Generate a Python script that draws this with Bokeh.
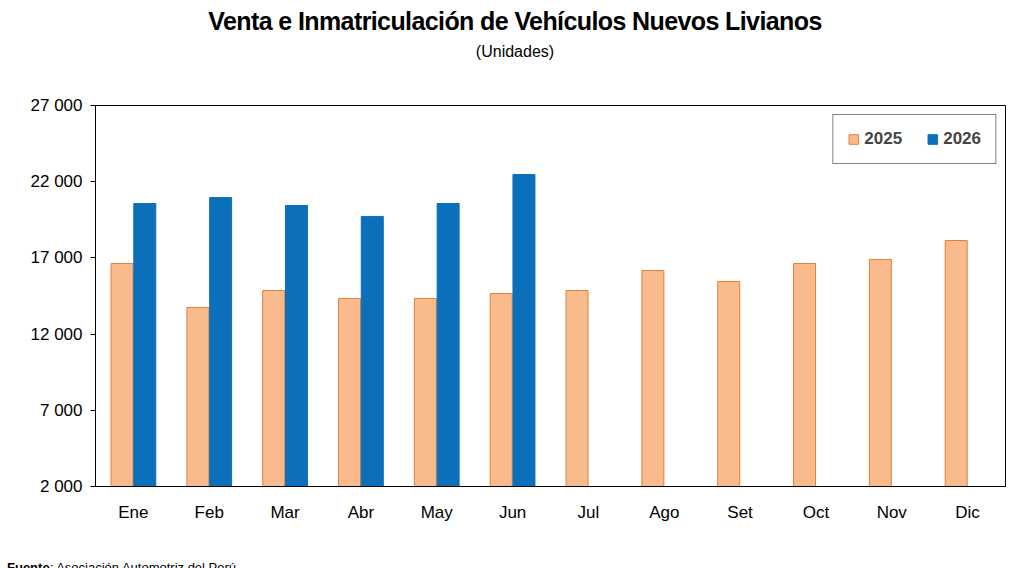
from bokeh.plotting import figure
from bokeh.models import FactorRange, Range1d, Legend, LegendItem, ColumnDataSource, FixedTicker, Div
from bokeh.layouts import column
from bokeh.transform import dodge
from bokeh.embed import file_html
from bokeh.resources import INLINE

months = ["Ene","Feb","Mar","Abr","May","Jun","Jul","Ago","Set","Oct","Nov","Dic"]
v2025 = [16630,13750,14860,14340,14340,14660,14860,16170,15450,16630,16900,18140]
months26 = ["Ene","Feb","Mar","Abr","May","Jun"]
v2026 = [20570,20960,20440,19720,20570,22470]
yticks = [2000,7000,12000,17000,22000,27000]

FONT = "Liberation Sans"
p = figure(x_range=FactorRange(*months), y_range=Range1d(2000,27000), width=1008, height=458,
           output_backend="svg", toolbar_location=None,
           min_border_left=95, min_border_right=3, min_border_top=33, min_border_bottom=44)
p.outline_line_color="black"; p.outline_line_width=1
p.xgrid.grid_line_color=None; p.ygrid.grid_line_color=None

s1 = ColumnDataSource(dict(x=months, y=v2025))
s2 = ColumnDataSource(dict(x=months26, y=v2026))
r1 = p.vbar(x=dodge("x",-0.15,range=p.x_range), top="y", bottom=2000, width=0.29, source=s1,
            fill_color="#F9BB8B", line_color="#E0803A", line_width=1)
r2 = p.vbar(x=dodge("x",0.15,range=p.x_range), top="y", bottom=2000, width=0.29, source=s2,
            fill_color="#0B70B9", line_color="#0B70B9", line_width=1)

p.yaxis.ticker = FixedTicker(ticks=yticks)
p.yaxis.major_label_overrides = {t: f"{t:,}".replace(",", " ") for t in yticks}
for ax in (p.xaxis[0], p.yaxis[0]):
    ax.major_label_text_font = FONT
    ax.major_label_text_font_size = "17px"
    ax.major_label_text_color = "black"
    ax.axis_line_color = "black"
    ax.major_tick_line_color = "black"
    ax.minor_tick_line_color = None
p.xaxis.major_tick_line_color = None
p.xaxis.major_label_standoff = 10
p.yaxis.major_tick_out = 5; p.yaxis.major_tick_in = 0
p.yaxis.major_label_standoff = 8

leg = Legend(items=[LegendItem(label="2025", renderers=[r1]), LegendItem(label="2026", renderers=[r2])],
             orientation="horizontal", location="top_right",
             border_line_color="black", border_line_width=1,
             label_text_font=FONT, label_text_font_style="bold", label_text_font_size="17px",
             glyph_width=12, glyph_height=12, spacing=24, padding=14, margin=9)
leg.padding = 14
p.add_layout(leg)

title = Div(width=1008, height=62, text=(
    "<div style='width:1020px;text-align:center;font-family:Liberation Sans,Arial;color:black;line-height:1'>"
    "<div style='font-size:25px;font-weight:bold;letter-spacing:-0.6px;margin-top:4px'>Venta e Inmatriculación de Vehículos Nuevos Livianos</div>"
    "<div style='font-size:16px;margin-top:10px'>(Unidades)</div></div>"))
src = Div(width=1008, height=40, text=(
    "<div style='font-family:Liberation Sans,Arial;font-size:13px;color:black;margin-top:24px;margin-left:2px'>"
    "<b>Fuente</b>: Asociación Automotriz del Perú.</div>"))

open("out.html","w").write(file_html(column(title, p, src, spacing=0), INLINE))
